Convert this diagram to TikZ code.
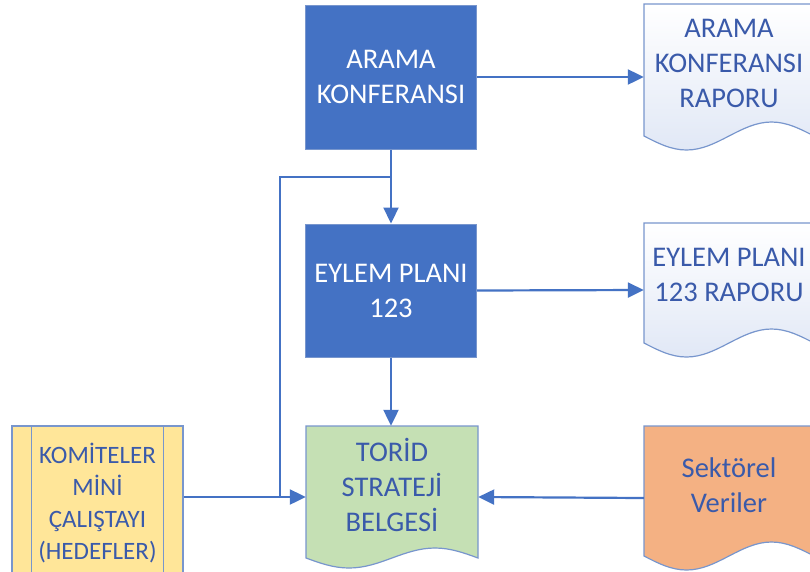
\documentclass[tikz,border=0pt]{standalone}
\usepackage{fontspec}
\setmainfont{Carlito}
\usetikzlibrary{arrows.meta,calc}
\definecolor{boxblue}{RGB}{68,114,196}
\definecolor{boxedge}{RGB}{120,150,205}
\definecolor{txtblue}{RGB}{58,90,170}
\definecolor{docfill}{RGB}{225,232,246}
\definecolor{greenfill}{RGB}{197,224,180}
\definecolor{orangefill}{RGB}{244,177,131}
\definecolor{yellowfill}{RGB}{255,230,153}
\newcommand\docshape[6]{%
  \path[#1] (#2,#3) -- (#2+#4,#3) -- (#2+#4,#5)
    sin (#2+0.75*#4,#5-#6) cos (#2+0.5*#4,#5)
    sin (#2+0.25*#4,#5+#6) cos (#2,#5) -- cycle;}
\begin{document}
\begin{tikzpicture}[x=1pt,y=-1pt,
  bigfont/.style={font=\fontsize{28.5}{35}\selectfont},
  procbox/.style={draw=boxedge,line width=1pt,fill=boxblue,text=white,bigfont,align=center,
    minimum width=171pt,inner sep=0pt},
  anchorbox/.style={minimum width=170pt,inner sep=0pt},
  doctext/.style={text=txtblue,bigfont,align=center,inner sep=0pt},
  docedge/.style={draw=boxedge,line width=1.2pt},
  conn/.style={draw=boxblue,line width=2.2pt},
  arr/.style={conn,-{Triangle[length=16pt,width=15pt]}}]
\useasboundingbox (0,0) rectangle (810,571);
\clip (0,0) rectangle (810,571);
\fill[white] (0,0) rectangle (810,571);

% process boxes
\node[procbox,minimum height=144pt] (arama) at (391,77) {ARAMA\\KONFERANSI};
\node[procbox,minimum height=133pt] (eylem) at (391,290.5) {EYLEM PLANI\\123};

% documents
\docshape{docedge,top color=white,bottom color=docfill}{644}{4}{170}{136}{14}
\node[anchorbox,minimum height=146pt] (araporu) at (729,77) {};
\node[doctext] (araporutxt) at (729,63) {ARAMA\\KONFERANSI\\RAPORU};

\docshape{docedge,top color=white,bottom color=docfill}{644}{223}{170}{343}{14}
\node[anchorbox,minimum height=134pt] (eraporu) at (729,290) {};
\node[doctext] (eraporutxt) at (729,275) {EYLEM PLANI\\123 RAPORU};

\docshape{docedge,fill=greenfill}{306}{426}{172}{558}{10}
\node[anchorbox,minimum width=172pt,minimum height=142pt] (torid) at (392,497) {};
\node[doctext] (toridtxt) at (392,485) {TORİD\\STRATEJİ\\BELGESİ};

\docshape{docedge,fill=orangefill}{644}{426}{170}{556}{14}
\node[anchorbox,minimum height=144pt] (sektor) at (729,498) {};
\node[doctext] (sektortxt) at (729,485) {Sektörel\\Veriler};

% predefined process
\node[draw=boxedge,line width=1.2pt,fill=yellowfill,minimum width=171pt,minimum height=154pt,
  inner sep=0pt] (komite) at (97.5,503) {};
\draw[boxedge,line width=1.2pt] ($(komite.north west)+(20,0)$) -- ($(komite.south west)+(20,0)$)
  ($(komite.north east)+(-20,0)$) -- ($(komite.south east)+(-20,0)$);
\node[text=txtblue,font=\fontsize{25}{32}\selectfont,align=center,inner sep=0pt] (komitetxt)
  at (97.5,503) {KOMİTELER\\MİNİ\\ÇALIŞTAYI\\(HEDEFLER)};

% connectors
\draw[arr] (arama.east) -- (araporu.west);
\draw[arr] (arama.south) -- (eylem.north);
\draw[arr] (eylem.east) -- (eraporu.west);
\draw[arr] (eylem.south) -- (eylem.south |- torid.north);
\coordinate (br) at (391,177);
\coordinate (jn) at (280,497);
\draw[conn] (br) -| (jn);
\draw[arr] (komite.east |- torid.west) -- (torid.west);
\draw[arr] (sektor.west) -- (torid.east);
\end{tikzpicture}
\end{document}
